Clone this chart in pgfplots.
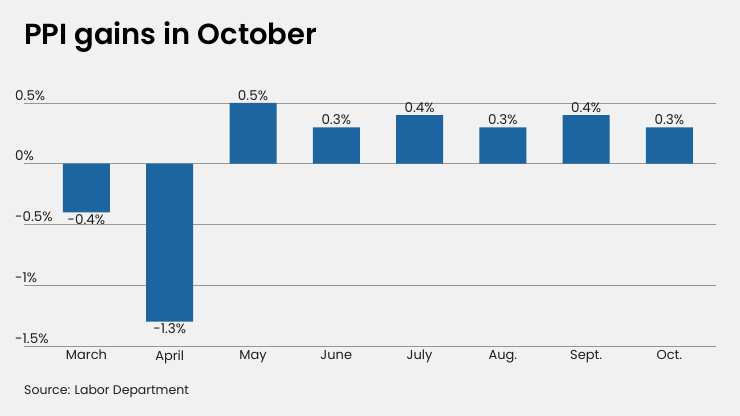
\documentclass[border=0pt]{standalone}
\usepackage{pgfplots}
\pgfplotsset{compat=1.18}
\usepackage{fontspec}
\setmainfont{Poppins}
\newfontfamily\titlefont{Poppins SemiBold}
\definecolor{bg}{RGB}{240,241,240}
\definecolor{barblue}{RGB}{29,101,160}
\definecolor{gridc}{RGB}{150,150,150}
\definecolor{txt}{RGB}{30,30,30}
\begin{document}
\begin{tikzpicture}
\path[use as bounding box, fill=bg] (0,0) rectangle (740bp,416bp);
\node[anchor=base west, inner sep=0pt, text=black,
  font=\fontsize{29bp}{32bp}\titlefont] at (24bp,371bp) {PPI gains in October};
\node[anchor=base west, inner sep=0pt, text=txt,
  font=\fontsize{12.5bp}{15bp}\selectfont] at (24bp,22bp) {Source: Labor Department};
\begin{axis}[
    at={(24bp,70bp)}, anchor=south west,
    scale only axis, width=692bp, height=243bp,
    xmin=-0.75, xmax=7.56,
    ymin=-1.5, ymax=0.5,
    ytick={-1.5,-1,-0.5,0,0.5},
    yticklabels={-1.5\%,-1\%,-0.5\%,0\%,0.5\%},
    xtick={0,...,7},
    xticklabels={March,April,May,June,July,Aug.,Sept.,Oct.},
    ybar, bar width=47bp,
    ymajorgrids=true,
    grid style={draw=gridc, line width=0.8bp},
    axis line style={draw=none},
    major tick length=0pt,
    yticklabel style={anchor=south west, xshift=-9bp, yshift=2.5bp, inner sep=0pt,
      font=\fontsize{13.5bp}{16bp}\selectfont, text=txt},
    xticklabel style={anchor=north, yshift=-4bp, inner sep=0pt,
      font=\fontsize{13bp}{16bp}\selectfont, text=txt},
    /pgf/number format/.cd, fixed, fixed zerofill, precision=1, assume math mode=true,
    /pgfplots/.cd,
    nodes near coords={\pgfmathprintnumber{\pgfplotspointmeta}\%},
    every node near coord/.append style={inner sep=2bp,
      font=\fontsize{13.5bp}{16bp}\selectfont, text=txt},
]
\addplot[fill=barblue, draw=none] coordinates {
  (0,-0.4) (1,-1.3) (2,0.5) (3,0.3) (4,0.4) (5,0.3) (6,0.4) (7,0.3)
};
\end{axis}
\end{tikzpicture}
\end{document}
